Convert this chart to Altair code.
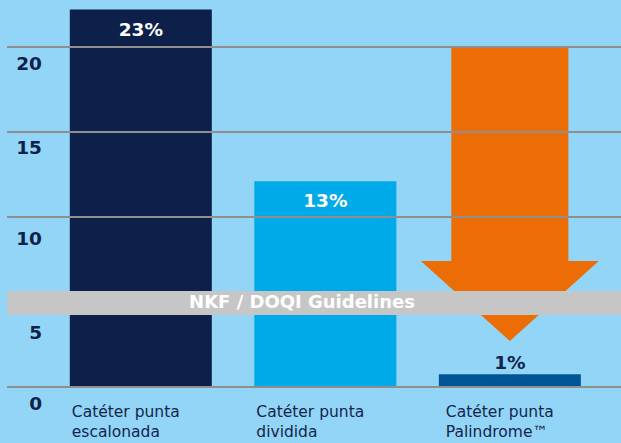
import altair as alt
import pandas as pd

# ---- data ----
categories = ["Catéter punta\nescalonada", "Catéter punta\ndividida", "Catéter punta\nPalindrome™"]
values = [22.2, 12.1, 0.75]          # bar heights on the axis scale
value_labels = ["23%", "13%", "1%"]
bar_colors = ["#0c2049", "#00aae8", "#005596"]
grid_values = [0, 5, 10, 15, 20]
band_low = [4.24]
band_high = [5.65]
band_text = ["NKF / DOQI Guidelines"]
arrow_category = ["Catéter punta\nPalindrome™"]
arrow_top = [20]
arrow_shaft_end = [7.41]
arrow_head_center = [5.06]

FONT = "DejaVu Sans"
NAVY = "#13254d"
ORANGE = "#ec6c05"

bars_df = pd.DataFrame({"cat": categories, "value": values, "label": value_labels})
grid_df = pd.DataFrame({"g": grid_values})
band_df = pd.DataFrame({"lo": band_low, "hi": band_high, "txt": band_text,
                        "mid": [(a + b) / 2 for a, b in zip(band_low, band_high)]})
arrow_df = pd.DataFrame({"cat": arrow_category, "top": arrow_top,
                         "end": arrow_shaft_end, "head": arrow_head_center})

yscale = alt.Scale(domain=[0, 22.765], nice=False, zero=True)
xscale = alt.Scale(domain=categories, paddingInner=0.2304, paddingOuter=0.279, align=0.61)

y_axis = alt.Axis(
    values=grid_values, grid=False, domain=False, ticks=False, title=None,
    labelFont=FONT, labelFontSize=18.5, labelFontWeight="bold", labelColor="#0e2149",
    labelAlign="right", labelBaseline="alphabetic", labelPadding=-34.5,
    labelOffset={"condition": [
        {"test": "datum.value == 20", "value": 22},
        {"test": "datum.value == 15", "value": 21},
        {"test": "datum.value == 10", "value": 27},
        {"test": "datum.value == 5", "value": 36},
    ], "value": 22},
)
x_axis = alt.Axis(
    title=None, domain=False, ticks=False, grid=False, labelAngle=0,
    labelExpr="split(datum.label, '\\n')",
    labelFont=FONT, labelFontSize=15.5, labelColor=NAVY,
    labelAlign="left", labelBaseline="top", labelPadding=17, labelLineHeight=20,
    labelOffset={"condition": [
        {"test": "indexof(datum.label, 'Palindrome') >= 0", "value": -64},
    ], "value": -69},
)

X = alt.X("cat:N", scale=xscale, axis=x_axis)

bars = alt.Chart(bars_df).mark_bar().encode(
    x=X,
    y=alt.Y("value:Q", scale=yscale, axis=y_axis),
    color=alt.Color("cat:N", scale=alt.Scale(domain=categories, range=bar_colors), legend=None),
)

shaft = alt.Chart(arrow_df).mark_bar(color=ORANGE, width=alt.RelativeBandSize(0.824)).encode(
    x=alt.X("cat:N", scale=xscale),
    y=alt.Y("top:Q", scale=yscale),
    y2="end:Q",
)

head = alt.Chart(arrow_df).mark_point(
    shape="M-1,-0.449L1,-0.449L0,0.449Z", size=31684, filled=True,
    color=ORANGE, opacity=1, strokeWidth=0,
).encode(
    x=alt.X("cat:N", scale=xscale),
    y=alt.Y("head:Q", scale=yscale),
)

rules = alt.Chart(grid_df).mark_rule(color="#8f8f8f", strokeWidth=2).encode(
    y=alt.Y("g:Q", scale=yscale),
)

band = alt.Chart(band_df).mark_rect(color="#c6c6c6").encode(
    x=alt.value(0), x2=alt.value(614),
    y=alt.Y("lo:Q", scale=yscale), y2="hi:Q",
)

band_label = alt.Chart(band_df).mark_text(
    font=FONT, fontSize=18, fontWeight="bold", color="white",
    align="center", baseline="middle",
).encode(
    x=alt.value(295),
    y=alt.Y("mid:Q", scale=yscale),
    text="txt:N",
)

inside = alt.Chart(bars_df).transform_filter("datum.value > 5").mark_text(
    font=FONT, fontSize=18.5, fontWeight="bold", color="white",
    align="center", baseline="alphabetic", dy=26,
).encode(x=alt.X("cat:N", scale=xscale), y=alt.Y("value:Q", scale=yscale), text="label:N")

outside = alt.Chart(bars_df).transform_filter("datum.value <= 5").mark_text(
    font=FONT, fontSize=18.5, fontWeight="bold", color=NAVY,
    align="center", baseline="alphabetic", dy=-5,
).encode(x=alt.X("cat:N", scale=xscale), y=alt.Y("value:Q", scale=yscale), text="label:N")

chart = alt.layer(bars, shaft, head, rules, band, band_label, inside, outside).properties(
    width=614, height=387,
    autosize=alt.AutoSizeParams(type="none"),
    padding={"left": 7, "top": 0, "right": 0, "bottom": 56},
    background="#92d5f6",
).configure_view(strokeWidth=0)

chart.save("out.html", embed_options={"renderer": "svg", "actions": False})
